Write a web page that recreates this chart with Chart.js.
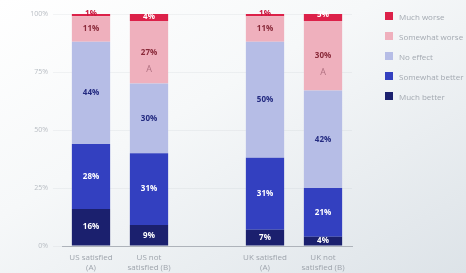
<!DOCTYPE html>
<html>
<head>
<meta charset="utf-8">
<script src="https://cdn.jsdelivr.net/npm/chart.js@4"></script>
<style>
  html, body { margin: 0; padding: 0; }
  body {
    width: 466px; height: 273px; overflow: hidden; position: relative;
    background: linear-gradient(150deg, #ffffff 0%, #f6f8f9 40%, #dde3e8 100%);
    font-family: "Open Sans", sans-serif;
  }
  #wrap { position: absolute; left: 0; top: 0; width: 466px; height: 273px; }
  #legend { position: absolute; left: 385px; top: 6px; width: 81px; overflow: hidden; }
  .item { height: 20px; display: flex; align-items: center; white-space: nowrap; }
  .box { width: 8px; height: 8px; margin-right: 6px; flex: none; }
  .txt { font-size: 8px; color: #a3a9b1; }
</style>
</head>
<body>
<div id="wrap"><canvas id="chart" width="466" height="273"></canvas></div>
<div id="legend"></div>
<script>
"use strict"

// Chart data
const categories = [["US satisfied", "(A)"], ["US not", "satisfied (B)"], "", ["UK satisfied", "(A)"], ["UK not", "satisfied (B)"]];
const muchBetter = [16, 9, null, 7, 4];
const somewhatBetter = [28, 31, null, 31, 21];
const noEffect = [44, 30, null, 50, 42];
const somewhatWorse = [11, 27, null, 11, 30];
const muchWorse = [1, 4, null, 1, 5];
const worseSignificance = ["", "A", "", "", "A"];
const yTicks = [0, 25, 50, 75, 100];

const colours = {
    muchBetter: "#1b206e",
    somewhatBetter: "#3340c0",
    noEffect: "#b6bde6",
    somewhatWorse: "#efb0bd",
    muchWorse: "#dc2149"
};

const datasets = [
    { label: "Much better", data: muchBetter, backgroundColor: colours.muchBetter, textColour: "#ffffff" },
    { label: "Somewhat better", data: somewhatBetter, backgroundColor: colours.somewhatBetter, textColour: "#ffffff" },
    { label: "No effect", data: noEffect, backgroundColor: colours.noEffect, textColour: "#232a80" },
    { label: "Somewhat worse", data: somewhatWorse, backgroundColor: colours.somewhatWorse, textColour: "#8a2a3a", notes: worseSignificance },
    { label: "Much worse", data: muchWorse, backgroundColor: colours.muchWorse, textColour: "#ffffff" }
];

// Percentage labels inside the bar segments
const segmentLabels = {
    id: "segmentLabels",
    afterDatasetsDraw(chart) {
        const { ctx } = chart;
        ctx.save();
        ctx.textAlign = "center";
        ctx.textBaseline = "middle";
        chart.data.datasets.forEach((ds, i) => {
            const meta = chart.getDatasetMeta(i);
            meta.data.forEach((bar, j) => {
                const value = ds.data[j];
                if (value == null) return;
                const { x, y, base } = bar.getProps(["x", "y", "base"], true);
                const mid = (y + base) / 2;
                const small = value < 3;
                ctx.font = "bold 8px 'Open Sans', sans-serif";
                ctx.fillStyle = small ? "#c8193f" : ds.textColour;
                ctx.fillText(value + "%", x, small ? mid - 1 : mid);
                if (ds.notes && ds.notes[j]) {
                    ctx.font = "9px 'Open Sans', sans-serif";
                    ctx.fillStyle = "#b07080";
                    ctx.fillText(ds.notes[j], x, mid + 17);
                }
            });
        });
        ctx.restore();
    }
};

const chart = new Chart(document.getElementById("chart"), {
    type: "bar",
    data: {
        labels: categories,
        datasets: datasets.map(d => ({
            label: d.label,
            data: d.data,
            backgroundColor: d.backgroundColor,
            textColour: d.textColour,
            notes: d.notes,
            borderWidth: 0,
            categoryPercentage: 1,
            barPercentage: 0.66
        }))
    },
    options: {
        responsive: false,
        animation: false,
        layout: { padding: { left: 0, right: 114, top: 14, bottom: 0 } },
        plugins: {
            legend: { display: false },
            tooltip: { enabled: false }
        },
        scales: {
            x: {
                stacked: true,
                grid: { display: false, drawTicks: false },
                border: { display: true, color: "#aeb3ba", width: 1 },
                ticks: {
                    color: "#9ea4ac",
                    font: { family: "'Open Sans', sans-serif", size: 8, lineHeight: 1.35 },
                    padding: 6,
                    maxRotation: 0,
                    autoSkip: false
                },
                afterFit(scale) { scale.height = 27; }
            },
            y: {
                stacked: true,
                min: 0,
                max: 100,
                afterBuildTicks(scale) { scale.ticks = yTicks.map(v => ({ value: v })); },
                grid: { color: "rgba(120,130,140,0.08)", tickLength: 9 },
                border: { display: false },
                ticks: {
                    color: "#b8bdc3",
                    font: { family: "'Open Sans', sans-serif", size: 7 },
                    padding: 5,
                    callback: v => v + "%"
                },
                afterFit(scale) { scale.width = 62; }
            }
        }
    },
    plugins: [segmentLabels]
});

// Legend, top item first
const legend = document.getElementById("legend");
datasets.slice().reverse().forEach(d => {
    const item = document.createElement("div");
    item.className = "item";
    item.innerHTML = '<span class="box" style="background:' + d.backgroundColor + '"></span><span class="txt">' + d.label + '</span>';
    legend.appendChild(item);
});
</script>
</body>
</html>
